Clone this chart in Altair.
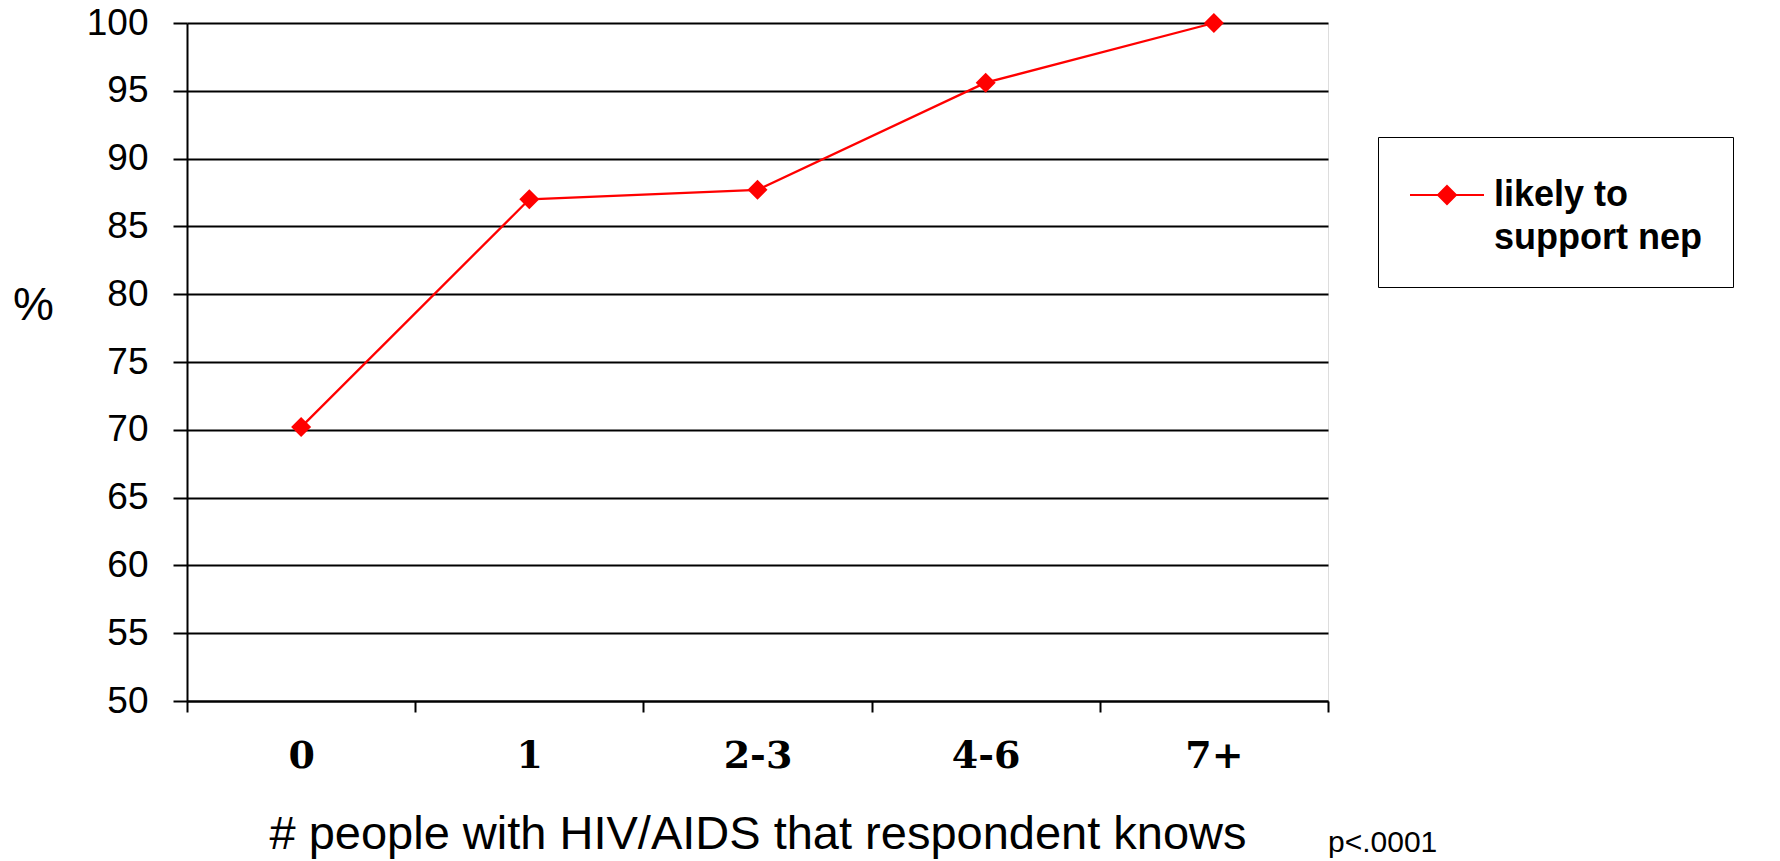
import altair as alt
import pandas as pd

# ---- data ----
categories = ["0", "1", "2-3", "4-6", "7+"]
values = [70.2, 87.0, 87.7, 95.6, 100.0]
series_name = "likely to support nep"
y_ticks = [50, 55, 60, 65, 70, 75, 80, 85, 90, 95, 100]
x_title = "# people with HIV/AIDS that respondent knows"
y_title = "%"
p_note = "p<.0001"

df = pd.DataFrame({"group": categories, "value": values, "series": [series_name] * len(categories)})
note_df = pd.DataFrame({"note": [p_note]})

SANS = "Liberation Sans"
SERIF = "DejaVu Serif"
RED = "#ff0000"

x_enc = alt.X(
    "group:N",
    sort=categories,
    scale=alt.Scale(type="band", paddingInner=0, paddingOuter=0),
    axis=alt.Axis(
        title=x_title,
        labelAngle=0,
        tickBand="extent",
        grid=False,
        domainColor="black",
        domainWidth=2,
        tickColor="black",
        tickWidth=2,
        tickSize=11,
        labelFont=SERIF,
        labelFontWeight="bold",
        labelFontSize=38,
        labelColor="black",
        labelPadding=25,
        titleFont=SANS,
        titleFontSize=47,
        titleFontWeight="normal",
        titleColor="black",
        titleY=147,
        titleBaseline="alphabetic",
    ),
)

y_enc = alt.Y(
    "value:Q",
    scale=alt.Scale(domain=[50, 100], nice=False, zero=False),
    axis=alt.Axis(
        values=y_ticks,
        title=y_title,
        titleAngle=0,
        titleX=-154,
        titleY=282,
        titleAlign="center",
        titleBaseline="middle",
        titleFont=SANS,
        titleFontSize=46,
        titleFontWeight="normal",
        titleColor="black",
        grid=True,
        gridColor="black",
        gridWidth=2,
        gridOpacity=1,
        domainColor="black",
        domainWidth=2,
        tickColor="black",
        tickWidth=2,
        tickSize=14,
        labelFont=SANS,
        labelFontSize=37,
        labelColor="black",
        labelPadding=25,
    ),
)

legend = alt.Legend(
    title=None,
    orient="none",
    legendX=1191,
    legendY=114,
    padding=31,
    strokeColor="black",
    fillColor="white",
    symbolType="M-1,0H1.846M0.423,-0.346L0.769,0L0.423,0.346L0.077,0Z",
    symbolSize=2704,
    symbolStrokeWidth=2,
    symbolFillColor=RED,
    symbolStrokeColor=RED,
    labelFont=SANS,
    labelFontSize=36,
    labelFontWeight="bold",
    labelColor="black",
    labelOffset=31,
    labelLimit=600,
    labelExpr="[slice(datum.label, 0, 9), slice(datum.label, 10)]",
)

color_enc = alt.Color("series:N", scale=alt.Scale(range=[RED]), legend=legend)

base = alt.Chart(df)
line = base.mark_line(color=RED, strokeWidth=2.3).encode(x=x_enc, y=y_enc, color=color_enc)
points = base.mark_point(shape="diamond", filled=True, size=400, opacity=1, color=RED).encode(
    x=x_enc, y=y_enc, color=color_enc
)
note = alt.Chart(note_df).mark_text(
    align="left", baseline="alphabetic", font=SANS, fontSize=30, color="black"
).encode(text="note:N", x=alt.value(1141), y=alt.value(829))

chart = (
    alt.layer(line, points, note)
    .properties(
        width=1141,
        height=678,
        autosize=alt.AutoSizeParams(type="none"),
        padding={"left": 179, "top": 15, "right": 440, "bottom": 160},
    )
    .configure_view(stroke="transparent")
    .configure_legend(strokeWidth=2)
    .configure(background="white", style={"guide-label": {"lineHeight": 43}})
)

chart.save("out.html", embed_options={"renderer": "svg", "actions": False})
